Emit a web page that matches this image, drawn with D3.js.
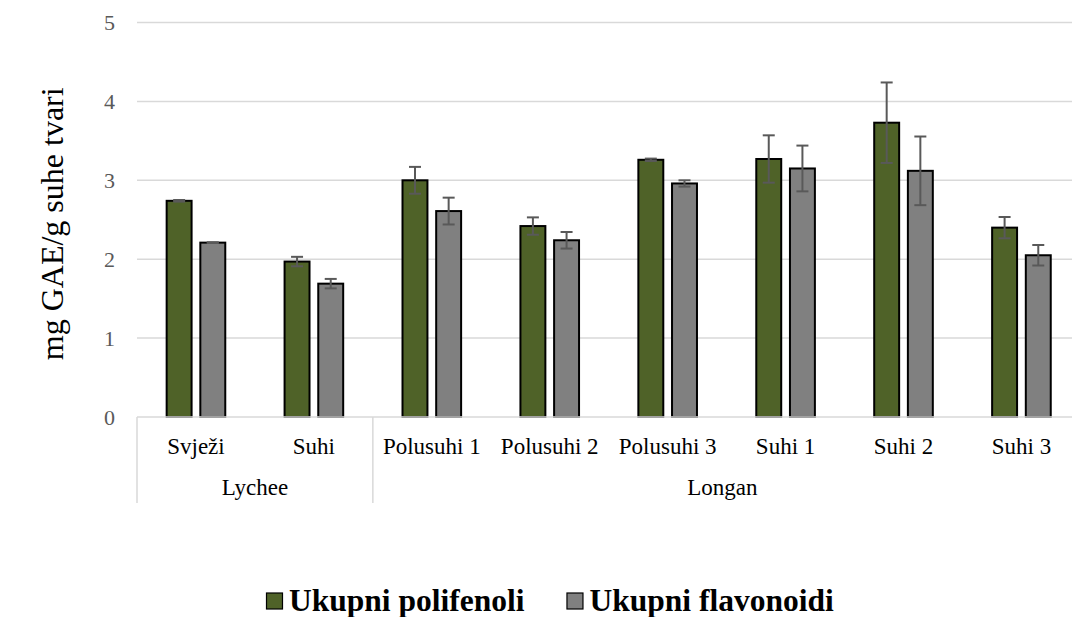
<!DOCTYPE html>
<html>
<head>
<meta charset="utf-8">
<script src="https://cdn.jsdelivr.net/npm/d3@7"></script>
<style>
  html, body { margin: 0; padding: 0; background: #fff; }
  svg text { font-family: "Liberation Serif", "DejaVu Serif", "Times New Roman", serif; }
</style>
</head>
<body>
<svg id="chart" width="1072" height="617"></svg>
<script>
const categories = ["Svježi", "Suhi", "Polusuhi 1", "Polusuhi 2", "Polusuhi 3", "Suhi 1", "Suhi 2", "Suhi 3"];
const groupNames = ["Lychee", "Longan"];
const groupSizes = [2, 6];
const seriesNames = ["Ukupni polifenoli", "Ukupni flavonoidi"];
const polifenoli = [2.74, 1.97, 3.00, 2.42, 3.26, 3.27, 3.73, 2.40];
const polifenoliErr = [0.01, 0.06, 0.17, 0.11, 0.015, 0.30, 0.51, 0.135];
const flavonoidi = [2.21, 1.69, 2.61, 2.24, 2.96, 3.15, 3.12, 2.05];
const flavonoidiErr = [0.005, 0.06, 0.17, 0.105, 0.04, 0.29, 0.435, 0.13];
const yTicks = [0, 1, 2, 3, 4, 5];
const yTitle = "mg GAE/g suhe tvari";

const FONT = "'Liberation Serif', 'DejaVu Serif', 'Times New Roman', serif";
const colors = ["#4f6228", "#808080"];
const W = 1072, H = 617;
const plotLeft = 137, plotRight = 1080.4, plotTop = 22.5, plotBottom = 417;

const svg = d3.select("#chart");

const x0 = d3.scaleBand().domain(categories).range([plotLeft, plotRight])
  .paddingInner(0.486).paddingOuter(0.243);
const x1 = d3.scaleBand().domain(seriesNames).range([0, x0.bandwidth()]).paddingInner(0.2);
const y = d3.scaleLinear().domain([0, 5]).range([plotBottom, plotTop]);

// gridlines
svg.append("g").selectAll("line").data(yTicks.filter(d => d > 0)).join("line")
  .attr("x1", plotLeft).attr("x2", W)
  .attr("y1", d => y(d)).attr("y2", d => y(d))
  .attr("stroke", "#d9d9d9").attr("stroke-width", 1.5);

// y tick labels
const yAxis = d3.axisLeft(y).tickValues(yTicks).tickSize(0).tickPadding(0).tickFormat(d3.format("d"));
const yg = svg.append("g").attr("transform", `translate(${plotLeft - 22},0)`).call(yAxis);
yg.attr("font-family", FONT).attr("font-size", 22);
yg.select(".domain").remove();
yg.selectAll("text").attr("font-size", 22).attr("fill", "#595959")
  .attr("font-family", FONT);

// series data
const data = categories.map((c, i) => ({
  cat: c,
  vals: [
    { s: seriesNames[0], v: polifenoli[i], e: polifenoliErr[i] },
    { s: seriesNames[1], v: flavonoidi[i], e: flavonoidiErr[i] }
  ]
}));

// bars
const cg = svg.append("g").selectAll("g").data(data).join("g")
  .attr("transform", d => `translate(${x0(d.cat)},0)`);
cg.selectAll("rect").data(d => d.vals).join("rect")
  .attr("x", d => x1(d.s) + 1)
  .attr("width", x1.bandwidth() - 2)
  .attr("y", d => y(d.v))
  .attr("height", d => y(0) - y(d.v))
  .attr("fill", (d, i) => colors[i])
  .attr("stroke", "#000").attr("stroke-width", 2);

// error bars
const eg = cg.selectAll("g.err").data(d => d.vals).join("g").attr("class", "err")
  .attr("stroke", "#595959").attr("stroke-width", 2);
eg.append("line")
  .attr("x1", d => x1(d.s) + x1.bandwidth() / 2).attr("x2", d => x1(d.s) + x1.bandwidth() / 2)
  .attr("y1", d => y(d.v + d.e)).attr("y2", d => y(d.v - d.e));
eg.append("line")
  .attr("x1", d => x1(d.s) + x1.bandwidth() / 2 - 6).attr("x2", d => x1(d.s) + x1.bandwidth() / 2 + 6)
  .attr("y1", d => y(d.v + d.e)).attr("y2", d => y(d.v + d.e));
eg.append("line")
  .attr("x1", d => x1(d.s) + x1.bandwidth() / 2 - 6).attr("x2", d => x1(d.s) + x1.bandwidth() / 2 + 6)
  .attr("y1", d => y(d.v - d.e)).attr("y2", d => y(d.v - d.e));

// x axis line
svg.append("line").attr("x1", plotLeft).attr("x2", W)
  .attr("y1", plotBottom).attr("y2", plotBottom)
  .attr("stroke", "#d9d9d9").attr("stroke-width", 1.5);

// category labels
svg.append("g").selectAll("text").data(categories).join("text")
  .attr("x", d => x0(d) + x0.bandwidth() / 2)
  .attr("y", 454)
  .attr("text-anchor", "middle")
  .attr("font-family", FONT)
  .attr("font-size", 23).attr("fill", "#000")
  .text(d => d);

// group separators and labels
const step = x0.step();
let start = 0;
const groups = groupNames.map((g, i) => {
  const o = { name: g, from: plotLeft + start * step, to: plotLeft + (start + groupSizes[i]) * step };
  start += groupSizes[i];
  return o;
});
const seps = [plotLeft].concat(groups.map(g => g.to));
svg.append("g").selectAll("line").data(seps).join("line")
  .attr("x1", d => d).attr("x2", d => d)
  .attr("y1", plotBottom).attr("y2", 503)
  .attr("stroke", "#d9d9d9").attr("stroke-width", 1.5);
svg.append("g").selectAll("text").data(groups).join("text")
  .attr("x", d => (d.from + Math.min(d.to, W)) / 2)
  .attr("y", 495)
  .attr("text-anchor", "middle")
  .attr("font-family", FONT)
  .attr("font-size", 23).attr("fill", "#000")
  .text(d => d.name);

// y title
svg.append("text")
  .attr("transform", `translate(63,${(plotTop + plotBottom) / 2 + 4}) rotate(-90)`)
  .attr("text-anchor", "middle")
  .attr("font-family", FONT)
  .attr("font-size", 32).attr("fill", "#000")
  .text(yTitle);

// legend
const leg = svg.append("g");
let lx = 266;
seriesNames.forEach((s, i) => {
  leg.append("rect").attr("x", lx + 0.5).attr("y", 593).attr("width", 16).attr("height", 16)
    .attr("fill", colors[i]).attr("stroke", "#000").attr("stroke-width", 1.2);
  const t = leg.append("text").attr("x", lx + 23).attr("y", 611)
    .attr("font-family", FONT)
    .attr("font-size", 31.5).attr("font-weight", "bold").attr("fill", "#000").text(s);
  lx = lx + 23 + t.node().getComputedTextLength() + 42;
});
</script>
</body>
</html>
